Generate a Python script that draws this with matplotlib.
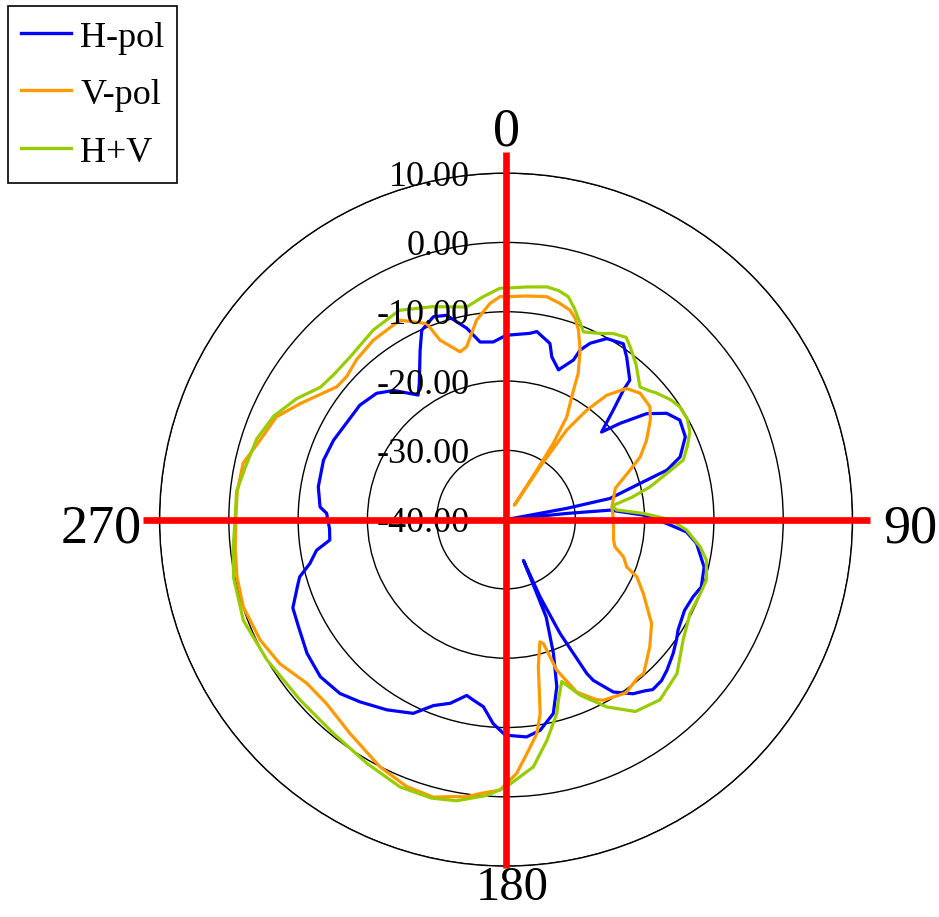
import numpy as np
import matplotlib.pyplot as plt

plt.rcParams["font.family"] = ["Liberation Serif", "DejaVu Serif"]

# angles in degrees, clockwise from the top; levels in dB
h_angle = [0, 7.3, 9.3, 14, 15.7, 19.3, 22.9, 23.6, 25.5, 29.1, 33.7, 36.6, 41.6, 42.2,
           44.4, 47.5, 49.8, 53, 56.5, 60.2, 65.2, 70.2, 72.9, 74.9, 78.5, 79.5, 82,
           84.2, 84.8, 88.1, 91.4, 93.9, 97.1, 103.5, 109, 112.4, 117, 122.7, 125.2,
           128.7, 133.1, 136, 139.2, 141, 143.9, 148.1, 151.5, 152.3, 154.6, 156.2,
           156.9, 157.4, 157.6, 160.5, 163.1, 166.3, 170.8, 174.6, 180.2, 183.6, 186.9,
           190.1, 192.6, 196.9, 201.3, 205.6, 212.1, 218.7, 223.7, 229.8, 236.1, 242.7,
           247.5, 252.9, 254.5, 257.4, 260.8, 263.4, 267, 272, 273.9, 279.9, 288, 294.7,
           304.8, 308, 314.3, 319, 324.8, 327.5, 333.1, 336, 340.3, 343.8, 348.4, 351.7,
           355.9, 360]
h_db = [-13.4, -12.9, -12.5, -13.8, -15.6, -17.1, -15.0, -13.3, -11.8, -10.1, -9.5, -10.8,
        -13.1, -14.8, -17.9, -21.3, -18.5, -14.6, -12.2, -11.1, -11.5, -13.3, -15.7, -20.0,
        -24.7, -31.1, -40.0, -31.2, -24.9, -20.2, -16.8, -13.9, -12.3, -10.6, -10.2, -10.8,
        -11.1, -10.5, -9.9, -9.1, -8.2, -7.7, -7.6, -8.2, -8.9, -10.7, -13.6, -14.9, -21.8,
        -27.8, -33.6, -28.5, -24.8, -19.5, -14.8, -11.2, -9.2, -8.5, -8.9, -10.5, -12.8,
        -13.5, -14.0, -12.3, -11.2, -9.0, -7.6, -6.3, -5.3, -4.9, -5.4, -6.3, -6.7, -8.6,
        -9.1, -11.0, -12.3, -14.4, -14.5, -14.1, -13.1, -12.5, -12.3, -12.6, -13.2, -13.2,
        -13.9, -15.3, -18.0, -16.7, -12.6, -10.1, -8.9, -9.3, -11.8, -14.1, -14.3, -13.4]

v_angle = [0, 5, 10.4, 14, 17, 19, 20.9, 23.6, 26.3, 27.5, 30.6, 31.8, 31.9, 30, 32.8,
           34.1, 36.4, 39, 42.6, 46.7, 51.9, 55.4, 60.5, 64.9, 68.2, 74, 83.1, 90.2,
           100.8, 104, 107.6, 111.4, 113.6, 118.3, 125.5, 131.5, 138.2, 140.3, 145.2,
           146.7, 151.7, 153.3, 157.7, 161.4, 163.2, 164.5, 167.6, 170, 171.8, 174.9,
           177.6, 181.3, 185.4, 188.1, 190.8, 194.7, 200.4, 207, 216.1, 224.3, 230.6,
           237.5, 243.9, 251.6, 258, 264, 270, 276, 282.1, 287.9, 294.1, 299.4, 308.1,
           311.9, 317, 323.5, 332, 338, 339.8, 344.7, 347.2, 351.6, 355.8, 358.5, 360]
v_db = [-7.85, -7.6, -7.3, -7.85, -8.4, -9.3, -10.7, -13.3, -16.5, -18.9, -22.8, -27.1,
        -31.6, -37.6, -30.9, -24.4, -20.4, -16.9, -14.3, -13.4, -13.6, -14.7, -16.7, -18.6,
        -20.7, -23.6, -24.6, -24.5, -24.2, -23.8, -22.2, -21.3, -19.4, -17.5, -14.2, -12.3,
        -10.2, -10.3, -9.6, -9.8, -10.4, -10.9, -13.1, -17.1, -21.3, -21.7, -18.3, -11.6,
        -8.8, -6.1, -3.35, -0.95, -0.3, 0.4, 0.7, 1.4, 1.1, 0.05, -1.8, -2.9, -2.8, -1.3,
        -0.5, -0.05, -0.3, -0.7, -1.0, -1.0, -1.2, -2.7, -3.7, -5.9, -8.95, -9.1, -8.4,
        -7.8, -7.4, -9.5, -12.4, -14.9, -14.4, -10.9, -8.7, -7.8, -7.85]

hv_angle = [0, 5, 10, 13, 15.6, 18, 20.7, 22.4, 26.8, 30, 33.4, 36, 40, 43, 45.3, 48, 50,
            54, 57, 61, 64.5, 68, 71.4, 74, 77.2, 80, 82.5, 85, 87.4, 90, 93.3, 98, 101.4,
            106.8, 110.8, 117, 124.2, 132, 139.5, 146, 151.7, 157.1, 161, 163.8, 165.3,
            169.5, 173.7, 180, 184, 190, 195, 201.6, 209.7, 218.9, 228.8, 239.6, 249, 258,
            264, 270, 276, 282, 288, 294, 300, 305.5, 310, 316, 325, 333, 341, 349.5, 354,
            358.5, 360]
hv_db = [-6.6, -6.3, -5.9, -6.1, -6.6, -8.0, -9.7, -10.7, -9.9, -9.0, -8.5, -9.4, -10.8,
         -12.0, -12.8, -12.2, -11.6, -10.6, -10.1, -10.1, -10.6, -11.8, -13.0, -15.9, -18.7,
         -21.6, -24.5, -24.0, -20.2, -16.3, -13.9, -11.7, -10.5, -9.8, -10.0, -10.2, -9.1,
         -6.8, -5.8, -6.6, -9.3, -12.5, -15.3, -12.9, -11.1, -7.6, -4.1, -1.4, -0.1, 1.2,
         1.6, 1.5, 0.5, -0.35, -0.5, 0.0, 0.6, 0.2, -0.4, -0.9, -0.9, -1.7, -2.2, -3.3,
         -5.1, -7.1, -7.5, -7.5, -6.6, -6.1, -7.5, -8.8, -7.7, -6.6, -6.6]

ring_levels = [-40, -30, -20, -10, 0, 10]
angle_labels = ["0", "90", "180", "270"]
series_names = ["H-pol", "V-pol", "H+V"]
series_colors = ["#0000ff", "#ff9900", "#99cc00"]

fig = plt.figure(figsize=(9.39, 9.17), dpi=100)
ax = fig.add_axes([0.1699, 0.0555, 0.738, 0.7557], projection="polar")
ax.set_theta_zero_location("N")
ax.set_theta_direction(-1)
ax.set_ylim(ring_levels[0], ring_levels[-1])
ax.set_xticks([])
ax.set_yticks(ring_levels[1:])
ax.set_yticklabels([])
ax.yaxis.grid(True, color="black", linewidth=1.0)
ax.spines["polar"].set_color("black")
ax.spines["polar"].set_linewidth(1.0)

handles = []
for ang, db, name, col in zip([h_angle, v_angle, hv_angle], [h_db, v_db, hv_db],
                              series_names, series_colors):
    line, = ax.plot(np.radians(ang), db, color=col, linewidth=2.3, label=name, zorder=3)
    handles.append(line)

# red cross through the centre
cross_ends = [13.1, 12.5, 10.3, 12.4]
for k, end in enumerate(cross_ends):
    th = np.radians(90 * k)
    ax.plot([th, th], [ring_levels[0], end], color="red", linewidth=4.8,
            solid_capstyle="butt", clip_on=False, zorder=6)

# radial level labels
for v in ring_levels:
    ax.annotate(f"{v:.2f}", xy=(0, v), xytext=(-36, 0), textcoords="offset pixels",
                ha="right", va="center_baseline", fontsize=26, zorder=4,
                annotation_clip=False)

# angle labels
ax.text(0, 14.0, angle_labels[0], ha="center", va="baseline", fontsize=39, clip_on=False)
ax.text(np.radians(90.6), 14.4, angle_labels[1], ha="left", va="center_baseline",
        fontsize=39, clip_on=False)
ax.text(np.radians(179), 10.0, angle_labels[2], ha="center", va="top", fontsize=35,
        clip_on=False, zorder=7)
ax.text(np.radians(269.4), 12.6, angle_labels[3], ha="right", va="center_baseline",
        fontsize=39, clip_on=False)

leg = fig.legend(handles, series_names, loc="upper left",
                 bbox_to_anchor=(8 / 939, 1 - 6 / 917), bbox_transform=fig.transFigure,
                 fontsize=26, handlelength=1.4, handleheight=0.95, handletextpad=0.25,
                 labelspacing=0.6, borderpad=0.35, borderaxespad=0, fancybox=False,
                 framealpha=1, edgecolor="black")
leg.get_frame().set_linewidth(1.2)
for lh in leg.get_lines():
    lh.set_linewidth(2.4)

fig.savefig("out.png", dpi=100)
